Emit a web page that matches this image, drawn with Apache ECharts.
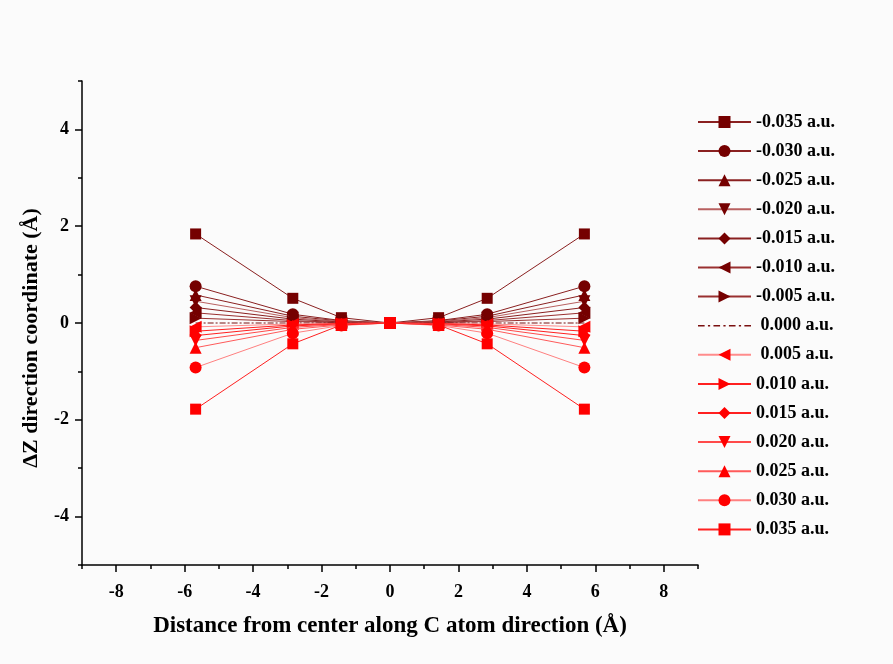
<!DOCTYPE html>
<html>
<head>
<meta charset="utf-8">
<script src="https://cdn.jsdelivr.net/npm/echarts@6/dist/echarts.min.js"></script>
<style>
  html, body { margin: 0; padding: 0; background: #fbfbfb; }
  #chart { width: 893px; height: 664px; }
</style>
</head>
<body>
<div id="chart"></div>
<script>
// Atom positions along the C direction (Å)
const positions = [-5.68, -2.84, -1.42, 0, 1.42, 2.84, 5.68];

// Field strengths (legend labels)
const fieldLabels = [
  '-0.035 a.u.', '-0.030 a.u.', '-0.025 a.u.', '-0.020 a.u.', '-0.015 a.u.',
  '-0.010 a.u.', '-0.005 a.u.', ' 0.000 a.u.', ' 0.005 a.u.', '0.010 a.u.',
  '0.015 a.u.', '0.020 a.u.', '0.025 a.u.', '0.030 a.u.', '0.035 a.u.'
];

// ΔZ displacement (Å) for each field, at each position
const dzM035 = [1.84, 0.51, 0.11, 0, 0.11, 0.51, 1.84];
const dzM030 = [0.76, 0.18, 0.05, 0, 0.05, 0.18, 0.76];
const dzM025 = [0.58, 0.14, 0.04, 0, 0.04, 0.14, 0.58];
const dzM020 = [0.45, 0.11, 0.03, 0, 0.03, 0.11, 0.45];
const dzM015 = [0.32, 0.08, 0.02, 0, 0.02, 0.08, 0.32];
const dzM010 = [0.21, 0.05, 0.01, 0, 0.01, 0.05, 0.21];
const dzM005 = [0.10, 0.03, 0.01, 0, 0.01, 0.03, 0.10];
const dz000  = [0, 0, 0, 0, 0, 0, 0];
const dzP005 = [-0.08, -0.02, -0.01, 0, -0.01, -0.02, -0.08];
const dzP010 = [-0.17, -0.04, -0.01, 0, -0.01, -0.04, -0.17];
const dzP015 = [-0.26, -0.06, -0.02, 0, -0.02, -0.06, -0.26];
const dzP020 = [-0.36, -0.09, -0.03, 0, -0.03, -0.09, -0.36];
const dzP025 = [-0.51, -0.13, -0.04, 0, -0.04, -0.13, -0.51];
const dzP030 = [-0.92, -0.21, -0.05, 0, -0.05, -0.21, -0.92];
const dzP035 = [-1.78, -0.43, -0.04, 0, -0.04, -0.43, -1.78];

const dzSets = [dzM035, dzM030, dzM025, dzM020, dzM015, dzM010, dzM005, dz000,
                dzP005, dzP010, dzP015, dzP020, dzP025, dzP030, dzP035];

// Tick values
const xMajorTicks = [-8, -6, -4, -2, 0, 2, 4, 6, 8];
const xMinorTicks = [-9, -7, -5, -3, -1, 1, 3, 5, 7, 9];
const yMajorTicks = [-4, -2, 0, 2, 4];
const yMinorTicks = [-5, -3, -1, 1, 3, 5];

// Marker shapes and rotations per series
const DARK = '#750000';
const RED = '#ff0000';
const styles = [
  { symbol: 'rect', rot: 0, size: 11, mark: DARK, line: '#8a2020' },
  { symbol: 'circle', rot: 0, size: 12, mark: DARK, line: '#8a2020' },
  { symbol: 'triangle', rot: 0, size: 12, mark: DARK, line: '#8a2020' },
  { symbol: 'triangle', rot: 180, size: 12, mark: DARK, line: '#b86060' },
  { symbol: 'diamond', rot: 0, size: 12, mark: DARK, line: '#8a2020' },
  { symbol: 'triangle', rot: 90, size: 12, mark: DARK, line: '#9a3030' },
  { symbol: 'triangle', rot: -90, size: 12, mark: DARK, line: '#9a3030' },
  { symbol: 'none', rot: 0, size: 12, mark: DARK, line: '#7a1010', dash: [6, 2, 2, 2] },
  { symbol: 'triangle', rot: 90, size: 12, mark: RED, line: '#ff8c8c' },
  { symbol: 'triangle', rot: -90, size: 12, mark: RED, line: '#ff2020' },
  { symbol: 'diamond', rot: 0, size: 12, mark: RED, line: '#ff2020' },
  { symbol: 'triangle', rot: 180, size: 12, mark: RED, line: '#ff4a4a' },
  { symbol: 'triangle', rot: 0, size: 12, mark: RED, line: '#ff5a5a' },
  { symbol: 'circle', rot: 0, size: 12, mark: RED, line: '#ff8080' },
  { symbol: 'rect', rot: 0, size: 11, mark: RED, line: '#ff2020' }
];

const serif = 'Liberation Serif, Times New Roman, serif';

const series = dzSets.map((vals, i) => {
  const s = styles[i];
  return {
    name: fieldLabels[i],
    type: 'line',
    xAxisIndex: 0,
    yAxisIndex: 0,
    data: positions.map((x, k) => [x, vals[k]]),
    symbol: s.symbol,
    symbolSize: s.size,
    symbolRotate: s.rot,
    itemStyle: { color: s.mark },
    lineStyle: { color: s.line, width: 1, type: s.dash || 'solid' },
    z: 2 + i,
    animation: false
  };
});

// Legend entries; the zero-field entry is shown as a plain dash-dot line
const legendData = fieldLabels.map((name, i) =>
  styles[i].symbol === 'none'
    ? { name: name, icon: 'path://M0,5 L6,5 L6,6.3 L0,6.3 Z M9,5 L11,5 L11,6.3 L9,6.3 Z M14,5 L20,5 L20,6.3 L14,6.3 Z M23,5 L25,5 L25,6.3 L23,6.3 Z M28,5 L34,5 L34,6.3 L28,6.3 Z M37,5 L39,5 L39,6.3 L37,6.3 Z M42,5 L48,5 L48,6.3 L42,6.3 Z',
        itemStyle: { color: '#7a1010' } }
    : { name: name }
);

const axisLineStyle = { show: true, onZero: false, lineStyle: { color: '#000', width: 1.5 } };

const option = {
  backgroundColor: '#fbfbfb',
  animation: false,
  grid: { left: 82, right: 195, top: 81, bottom: 99, containLabel: false },
  legend: {
    orient: 'vertical',
    left: 697,
    top: 113,
    padding: 0,
    itemWidth: 53,
    itemHeight: 15,
    itemGap: 11.1,
    data: legendData,
    textStyle: { fontFamily: serif, fontWeight: 'bold', fontSize: 18, color: '#000', padding: [0, 0, 0, 0] }
  },
  xAxis: [
    {
      type: 'value', min: -9, max: 9, interval: 1,
      position: 'bottom',
      name: 'Distance from center along C atom direction (Å)',
      nameLocation: 'middle', nameGap: 50,
      nameTextStyle: { fontFamily: serif, fontWeight: 'bold', fontSize: 23, color: '#000' },
      axisLine: axisLineStyle,
      axisTick: { show: true, inside: false, length: 7, customValues: xMajorTicks, lineStyle: { color: '#000', width: 1.5 } },
      axisLabel: { customValues: xMajorTicks, fontFamily: serif, fontWeight: 'bold', fontSize: 18, color: '#000', margin: 18 },
      splitLine: { show: false }
    },
    {
      type: 'value', min: -9, max: 9, interval: 1,
      position: 'bottom',
      axisLine: { show: false, onZero: false },
      axisTick: { show: true, inside: false, length: 4, customValues: xMinorTicks, lineStyle: { color: '#000', width: 1.5 } },
      axisLabel: { show: false },
      splitLine: { show: false }
    }
  ],
  yAxis: [
    {
      type: 'value', min: -5, max: 5, interval: 1,
      position: 'left',
      name: 'ΔZ direction coordinate (Å)',
      nameLocation: 'middle', nameGap: 40,
      nameTextStyle: { fontFamily: serif, fontWeight: 'bold', fontSize: 22, color: '#000', padding: [0, 30, 0, 0] },
      axisLine: axisLineStyle,
      axisTick: { show: true, inside: false, length: 7, customValues: yMajorTicks, lineStyle: { color: '#000', width: 1.5 } },
      axisLabel: { customValues: yMajorTicks, fontFamily: serif, fontWeight: 'bold', fontSize: 18, color: '#000', margin: 13 },
      splitLine: { show: false }
    },
    {
      type: 'value', min: -5, max: 5, interval: 1,
      position: 'left',
      axisLine: { show: false, onZero: false },
      axisTick: { show: true, inside: false, length: 4, customValues: yMinorTicks, lineStyle: { color: '#000', width: 1.5 } },
      axisLabel: { show: false },
      splitLine: { show: false }
    }
  ],
  series: series
};

const chart = echarts.init(document.getElementById('chart'), null, { renderer: 'canvas' });
chart.setOption(option);
</script>
</body>
</html>
